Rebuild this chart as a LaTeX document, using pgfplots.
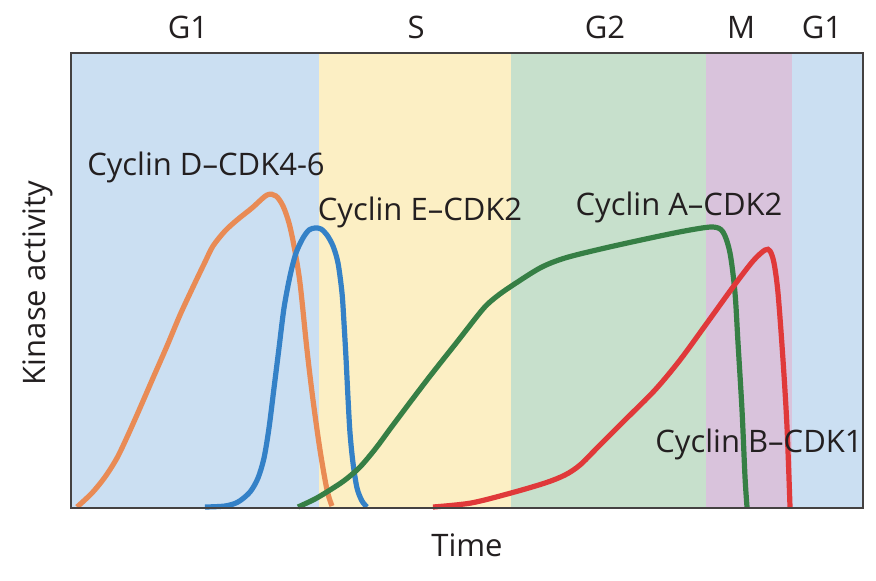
\documentclass[border=0pt]{standalone}
\usepackage{pgfplots}
\pgfplotsset{compat=1.18}
\usepackage{fontspec}
\setmainfont{Open Sans}
\definecolor{bandA}{HTML}{CBDFF2}
\definecolor{bandS}{HTML}{FCEFC4}
\definecolor{bandG}{HTML}{C7E0CC}
\definecolor{bandM}{HTML}{D9C3DC}
\definecolor{cD}{HTML}{E98B55}
\definecolor{cE}{HTML}{3481C7}
\definecolor{cA}{HTML}{367F45}
\definecolor{cB}{HTML}{E0393A}
\definecolor{ink}{HTML}{231F20}
\tikzset{lab/.style={font=\fontsize{15.5}{18}\selectfont, text=ink, inner sep=0pt}}
\begin{document}
\begin{tikzpicture}[x=0.5pt,y=0.5pt]
\path[use as bounding box] (0,0) rectangle (876,580);
\begin{axis}[
  at={(35.5pt,36pt)}, anchor=south west,
  scale only axis, width=396pt, height=227.5pt,
  xmin=71, xmax=863, ymin=0, ymax=455,
  xtick=\empty, ytick=\empty,
  axis line style={draw=ink!85, line width=1pt},
  axis on top, clip=false,
]
% phase bands
\fill[bandA] (axis cs:71,0) rectangle (axis cs:319,455);
\fill[bandS] (axis cs:319,0) rectangle (axis cs:511,455);
\fill[bandG] (axis cs:511,0) rectangle (axis cs:706,455);
\fill[bandM] (axis cs:706,0) rectangle (axis cs:792,455);
\fill[bandA] (axis cs:792,0) rectangle (axis cs:863,455);

% Cyclin D-CDK4-6
\addplot[cD, line width=2.6pt, smooth, tension=0.5] coordinates {
(77,1)(92,15)(105,31)(117,50)(128,73)(140,100)(153,130)(167,162)(180,193)
(193,221)(205,246)(213,262)(225,277)(237,288)(252,300)(267,313)(276,312)
(283,302)(289,285)(294,262)(300,225)(307,158)(313,108)(320,58)(327,18)(332,2)};
% Cyclin E-CDK2
\addplot[cE, line width=2.6pt, smooth, tension=0.5] coordinates {
(205,1)(225,2)(238,6)(250,16)(258,30)(264,50)(269,80)(274,120)(279,160)
(284,200)(290,232)(296,255)(303,270)(309,278)(315,280)(321,279)(327,273)
(333,262)(338,245)(342,215)(344,185)(346,150)(348,110)(350,75)(353,45)
(357,20)(362,7)(367,1)};
% Cyclin A-CDK2
\addplot[cA, line width=2.6pt, smooth, tension=0.5] coordinates {
(298,1)(315,9)(330,18)(345,28)(360,41)(376,60)(393,83)(427,128)(457,166)
(483,199)(496,211)(510,221)(540,240)(565,250)(605,260)(655,271)(690,278)
(713,281)(723,276)(730,255)(735,215)(738,165)(742,98)(745,31)(747,1)};
% Cyclin B-CDK1
\addplot[cB, line width=2.6pt, smooth, tension=0.5] coordinates {
(433,1)(471,5)(511,15)(545,25)(565,33)(580,43)(598,61)(625,88)(655,118)
(680,148)(707,185)(733,221)(753,247)(765,258)(770,257)(774,245)(778,215)
(783,148)(787,81)(790,1)};

% labels
\node[lab] at (axis cs:206,341) {Cyclin D–CDK4-6};
\node[lab] at (axis cs:420,296) {Cyclin E–CDK2};
\node[lab] at (axis cs:679,301) {Cyclin A–CDK2};
\node[lab] at (axis cs:759,64) {Cyclin B–CDK1};
\node[lab] at (axis cs:188,481) {G1};
\node[lab] at (axis cs:416,481) {S};
\node[lab] at (axis cs:605,481) {G2};
\node[lab] at (axis cs:741,481) {M};
\node[lab] at (axis cs:822,481) {G1};
\node[lab] at (axis cs:467,-37) {Time};
\node[lab, rotate=90] at (axis cs:38,225) {Kinase activity};
\end{axis}
\end{tikzpicture}
\end{document}
